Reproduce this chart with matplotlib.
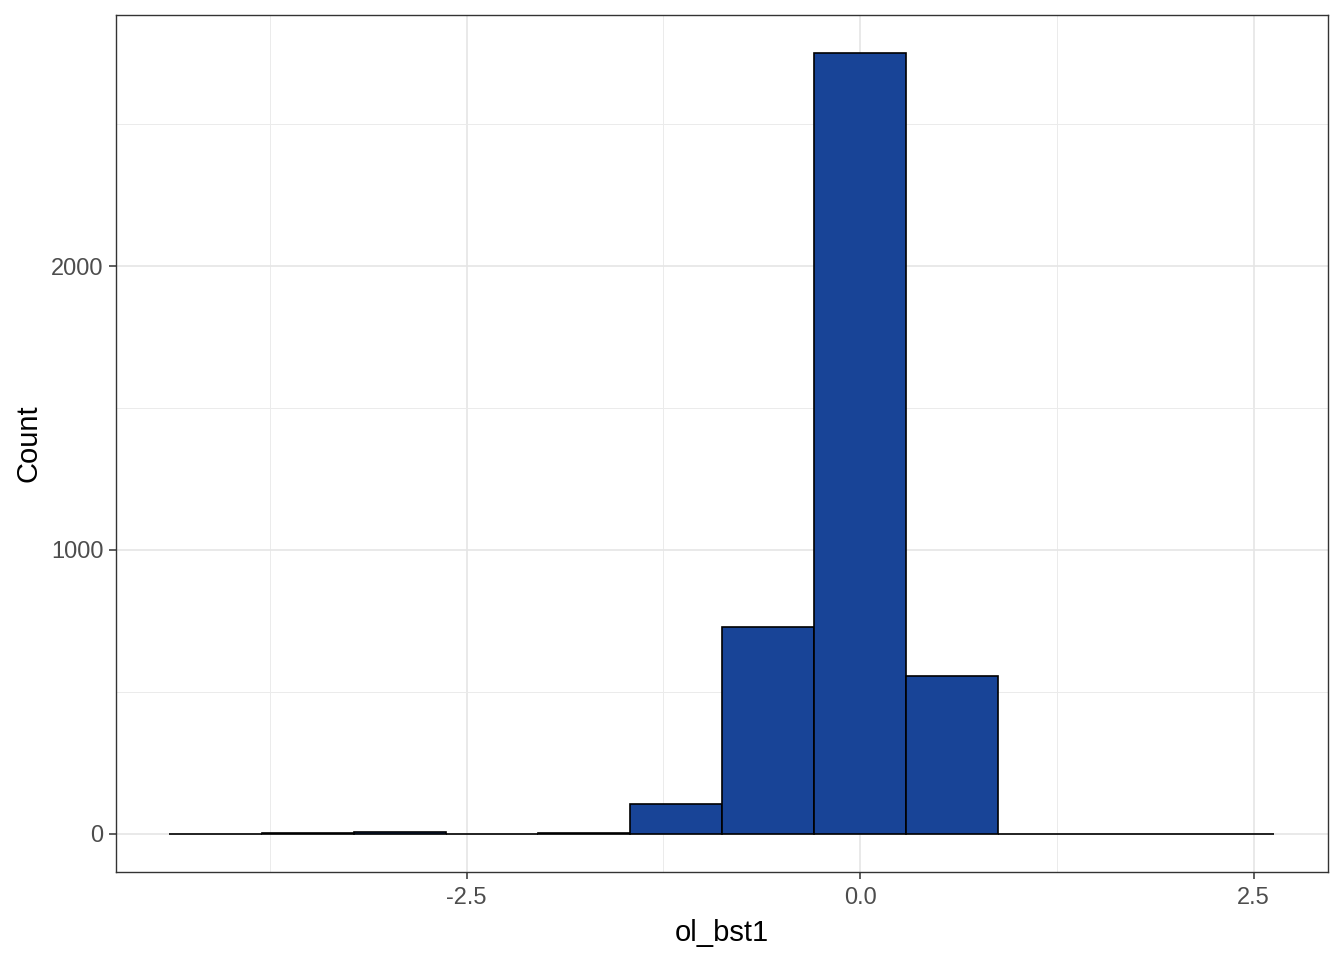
import numpy as np
import matplotlib.pyplot as plt
from matplotlib.ticker import MultipleLocator

# histogram bins (width ~0.585, one bin centred on 0)
bin_width = 0.585
bin_left = [-4.3875, -3.8025, -3.2175, -2.6325, -2.0475, -1.4625,
            -0.8775, -0.2925, 0.2925, 0.8775, 1.4625, 2.0475]
counts = [0, 4, 8, 0, 3, 106, 729, 2750, 556, 0, 0, 0]

x_ticks = [-2.5, 0.0, 2.5]
y_ticks = [0, 1000, 2000]

plt.rcParams["font.family"] = ["Liberation Sans", "DejaVu Sans"]

fig = plt.figure(figsize=(13.44, 9.6), dpi=100)
ax = fig.add_axes([116 / 1344, 88 / 960, 1212 / 1344, 857 / 960])

ax.bar(bin_left, counts, width=bin_width, align="edge",
       color="#184497", edgecolor="black", linewidth=1.2, zorder=3)

ax.set_xlim(-4.727, 2.973)
ax.set_ylim(-134, 2884)

ax.set_xticks(x_ticks)
ax.set_xticklabels([f"{t:.1f}" for t in x_ticks])
ax.set_yticks(y_ticks)
ax.xaxis.set_minor_locator(MultipleLocator(1.25))
ax.yaxis.set_minor_locator(MultipleLocator(500))

ax.grid(True, which="major", color="#E5E5E5", linewidth=1.2, zorder=0)
ax.grid(True, which="minor", color="#EBEBEB", linewidth=0.7, zorder=0)
ax.set_axisbelow(True)

for s in ax.spines.values():
    s.set_color("#333333")
    s.set_linewidth(1.0)

ax.tick_params(which="major", length=5, width=1.1, color="#333333",
               labelsize=17, labelcolor="#4D4D4D", pad=4)
ax.tick_params(axis="x", which="major", pad=6)
ax.tick_params(which="minor", length=0)

ax.set_xlabel("ol_bst1", fontsize=21, color="black", labelpad=7)
ax.set_ylabel("Count", fontsize=21, color="black", labelpad=6)

plt.savefig("out.png", dpi=100)
